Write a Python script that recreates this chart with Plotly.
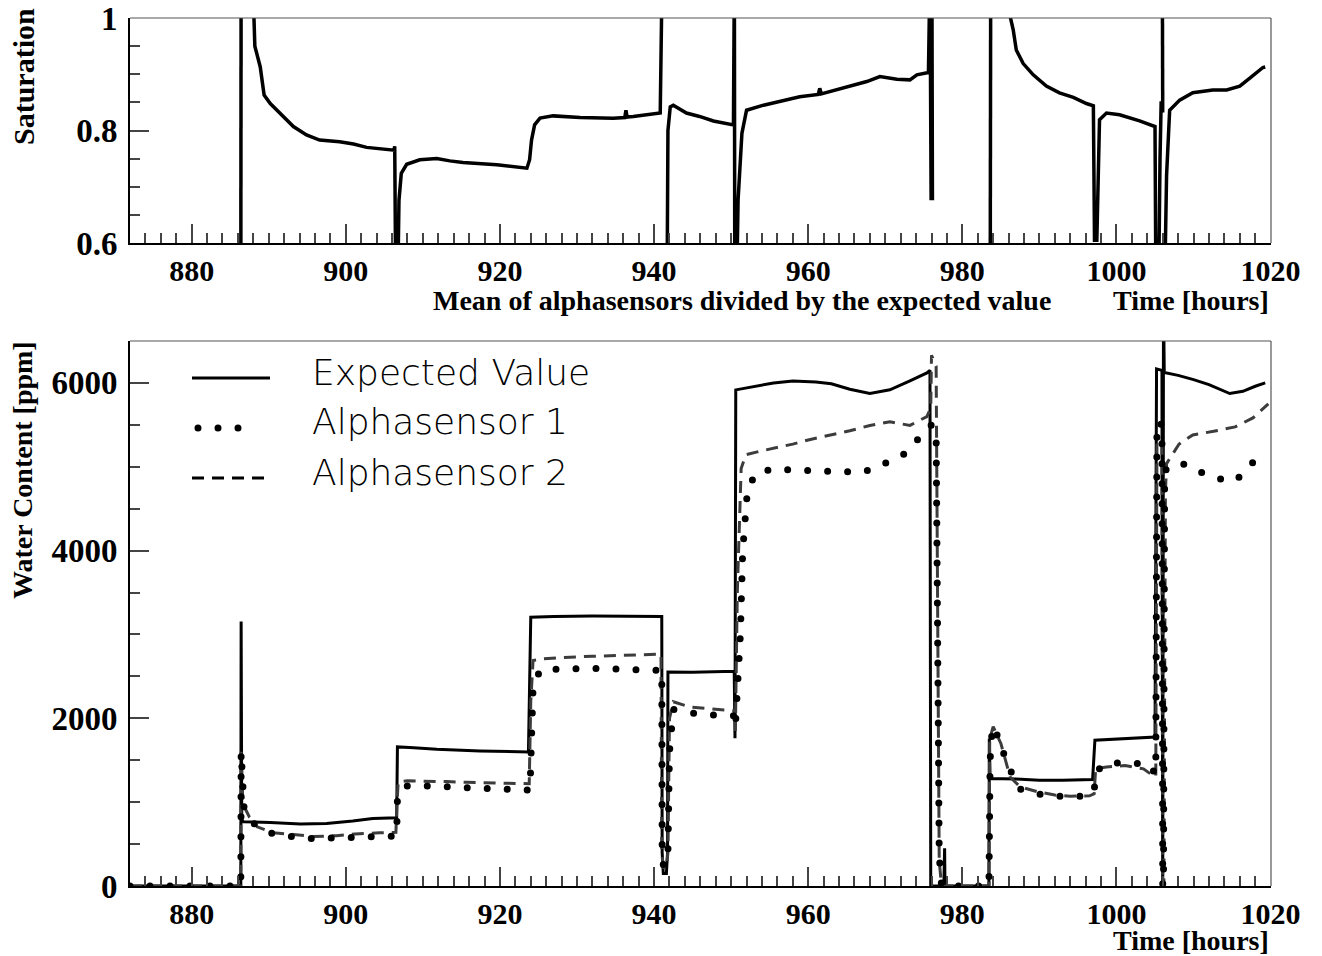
import plotly.graph_objects as go

# ---------------------------------------------------------------------------
# Saturation: mean of the two alphasensors divided by the expected value
# (None breaks the line where the ratio is undefined)
# ---------------------------------------------------------------------------
SAT_HOURS = [
    886.38, 886.42, 887.0, 887.9, 888.1, 888.2, 888.9, 889.4, 890.2, 891.5,
    893.2, 894.9, 896.6, 899.2, 901.0, 902.7, 904.4, 905.5, 906.25, 906.35,
    906.45, 906.8, 906.9, 907.2, 907.9, 909.6, 911.8, 913.5, 915.2, 919.6,
    923.5, 923.85, 924.1, 924.5, 925.2, 926.9, 930.4, 934.7, 936.2, 936.35,
    936.5, 937.3, 939.0, 940.8, 941.05, 941.4, 941.7, 941.8, 942.1, 942.5,
    944.2, 945.9, 947.7, 950.3, 950.42, 950.47, 950.75, 950.9, 951.4, 952.0,
    954.2, 956.3, 958.9, 961.3, 961.5, 961.7, 965.0, 967.6, 969.3, 971.5,
    973.2, 974.1, 975.6, 975.8, 975.95, 976.05, 976.12, 976.5, 983.62, 983.68,
    984.5, 986.0, 986.25, 986.6, 987.0, 987.9, 989.2, 990.9, 992.6, 994.4,
    996.1, 997.0, 997.15, 997.45, 997.6, 997.8, 998.7, 1000.4, 1003.0, 1005.0,
    1005.1, 1005.5, 1005.65, 1005.8, 1005.9, 1005.95, 1006.0, 1006.05, 1006.3, 1006.5,
    1006.9, 1008.2, 1009.9, 1012.5, 1014.3, 1016.0, 1017.3, 1019.0, 1019.3,
]
SAT_VALUES = [
    0.55, 1.08, None, 1.08, 1.0, 0.95, 0.913, 0.863, 0.848, 0.831,
    0.807, 0.792, 0.783, 0.780, 0.776, 0.770, 0.768, 0.766, 0.765, 0.772,
    0.58, 0.58, 0.676, 0.724, 0.740, 0.748, 0.750, 0.746, 0.743, 0.739,
    0.733, 0.748, 0.783, 0.810, 0.822, 0.826, 0.823, 0.822, 0.823, 0.836,
    0.824, 0.825, 0.828, 0.831, 1.08, None, 0.55, 0.80, 0.842, 0.845,
    0.831, 0.825, 0.817, 0.810, 1.08, 0.55, 0.55, 0.676, 0.795, 0.836,
    0.845, 0.851, 0.860, 0.864, 0.875, 0.865, 0.877, 0.887, 0.896, 0.891,
    0.890, 0.899, 0.903, 1.08, 0.676, 1.08, 0.676, None, 0.55, 1.08,
    None, 1.08, 1.0, 0.979, 0.943, 0.919, 0.899, 0.879, 0.867, 0.859,
    0.848, 0.844, 0.605, 0.605, 0.74, 0.819, 0.831, 0.828, 0.817, 0.807,
    0.56, 0.56, 0.75, 0.852, None, 1.08, 0.832, None, 0.56, 0.72,
    0.836, 0.854, 0.867, 0.872, 0.872, 0.879, 0.893, 0.912, 0.913,
]

# ---------------------------------------------------------------------------
# Water content [ppm]
# ---------------------------------------------------------------------------
EXPECTED_HOURS = [
    872.0, 886.38, 886.42, 886.5, 886.7, 890.2, 894.1, 897.5, 900.9, 903.5,
    906.6, 906.7, 908.3, 911.8, 917.4, 923.7, 924.0, 927.0, 932.0, 937.0,
    941.0, 941.05, 941.2, 941.6, 941.75, 941.8, 945.0, 950.4, 950.5, 950.6,
    953.0, 955.5, 958.0, 961.0, 963.0, 965.4, 968.0, 970.6, 973.2, 975.4,
    975.8, 975.9, 977.6, 977.7, 977.75, 983.45, 983.5, 983.6, 987.0, 990.0,
    993.0, 996.9, 997.2, 1000.0, 1005.0, 1005.2, 1005.9, 1006.0, 1006.1, 1006.2,
    1008.0, 1010.0, 1012.0, 1014.7, 1016.4, 1018.0, 1019.3,
]
EXPECTED_PPM = [
    0, 0, 3155, 790, 766, 758, 738, 746, 774, 806,
    813, 1659, 1651, 1631, 1611, 1599, 3206, 3215, 3220, 3218,
    3214, 400, 150, 150, 400, 2552, 2548, 2560, 1762, 5917,
    5960, 6000, 6024, 6010, 5990, 5925, 5875, 5918, 6024, 6119,
    6150, 0, 0, 450, 0, 0, 1758, 1282, 1275, 1260,
    1260, 1270, 1738, 1755, 1777, 6167, 6150, -200, 7000, 6124,
    6090, 6040, 5980, 5873, 5900, 5960, 6000,
]

SENSOR1_HOURS = [
    872.0, 886.38, 886.42, 886.6, 886.8, 888.2, 890.6, 893.2, 895.8, 898.8,
    901.2, 902.3, 904.4, 906.6, 906.7, 907.7, 910.3, 913.1, 915.7, 918.7,
    921.5, 923.9, 924.1, 924.3, 925.2, 928.0, 932.0, 936.0, 939.1, 941.0,
    941.05, 941.2, 941.6, 941.8, 942.0, 942.5, 944.4, 946.6, 948.2, 950.4,
    950.55, 951.2, 951.5, 952.1, 953.1, 955.5, 958.0, 960.0, 962.5, 965.4,
    966.4, 968.4, 970.3, 972.3, 973.9, 975.4, 976.0, 976.6, 977.0, 977.3,
    983.45, 983.6, 983.9, 985.0, 985.6, 987.5, 989.8, 992.0, 993.0, 995.6,
    997.1, 997.3, 998.7, 1001.1, 1003.2, 1004.3, 1005.0, 1005.1, 1005.25, 1005.9,
    1006.0, 1006.1, 1006.25, 1007.8, 1009.5, 1011.0, 1012.9, 1014.7, 1015.6, 1017.1,
    1018.6, 1019.0,
]
SENSOR1_PPM = [
    0, 0, 1600, 1200, 925, 734, 619, 587, 563, 575,
    583, 595, 595, 595, 1044, 1194, 1194, 1179, 1163, 1151,
    1151, 1143, 2056, 2373, 2571, 2590, 2595, 2590, 2571, 2571,
    400, 250, 250, 400, 1600, 2105, 2071, 2039, 2039, 2031,
    1900, 3000, 4000, 4700, 4917, 4976, 4960, 4960, 4950, 4940,
    4930, 4969, 5055, 5140, 5293, 5429, 5500, 5400, 360, 0,
    0, 1500, 1905, 1718, 1492, 1155, 1095, 1083, 1063, 1071,
    1123, 1361, 1468, 1468, 1460, 1452, 1341, 1345, 5536, 5500,
    0, 0, 4952, 5048, 5017, 4933, 4871, 4821, 4850, 4976,
    5167, 5170,
]

SENSOR2_HOURS = [
    872.0, 886.38, 886.42, 886.6, 886.8, 887.5, 888.5, 890.6, 893.2, 895.8,
    898.8, 901.2, 904.4, 906.5, 906.65, 906.8, 908.0, 910.3, 913.1, 915.7,
    918.7, 921.5, 923.8, 924.0, 924.3, 925.6, 928.0, 932.0, 936.0, 939.1,
    940.9, 941.0, 941.2, 941.6, 941.8, 942.0, 942.5, 944.6, 947.2, 949.8,
    950.4, 950.55, 950.8, 951.3, 951.9, 953.7, 955.8, 958.0, 960.0, 963.0,
    965.4, 968.0, 970.6, 973.2, 975.4, 975.9, 976.0, 976.6, 977.0, 977.3,
    983.45, 983.55, 984.0, 985.0, 986.2, 987.5, 989.8, 992.0, 994.0, 996.5,
    997.1, 997.3, 998.7, 1001.1, 1003.5, 1004.6, 1005.1, 1005.25, 1005.9, 1006.0,
    1006.15, 1006.35, 1006.5, 1008.1, 1009.9, 1012.6, 1015.4, 1017.7, 1019.7,
]
SENSOR2_PPM = [
    0, 0, 1600, 1100, 950, 820, 706, 635, 615, 590,
    600, 620, 635, 640, 1000, 1240, 1254, 1254, 1245, 1236,
    1230, 1222, 1220, 2200, 2690, 2710, 2725, 2740, 2755, 2760,
    2765, 400, 220, 220, 400, 2000, 2198, 2135, 2114, 2095,
    2090, 1850, 3500, 4980, 5143, 5185, 5226, 5270, 5320, 5380,
    5429, 5493, 5536, 5493, 5599, 5700, 6330, 6200, 300, 0,
    0, 1750, 1900, 1700, 1300, 1182, 1123, 1085, 1071, 1075,
    1100, 1400, 1420, 1436, 1397, 1325, 1300, 5300, 5300, 0,
    0, 4700, 5038, 5268, 5380, 5423, 5476, 5583, 5750,
]

X_RANGE = [872, 1020.05]
SAT_RANGE = [0.6, 1.0]
PPM_RANGE = [0, 6500]

LEGEND_LABELS = ["Expected Value", "Alphasensor 1", "Alphasensor 2"]

# ---------------------------------------------------------------------------
W, H = 1322, 956


def px_x(x):
    return x / W


def px_y(y):
    return 1 - y / H


SERIF = "Liberation Serif, Times New Roman, serif"
THIN = "DejaVu Sans ExtraLight, DejaVu Sans, sans-serif"
DOT_DASH = "0px,20px"
DASH = "12px,8px"
GREY_DASH = "#3c3c3c"

fig = go.Figure()

# upper panel
fig.add_trace(go.Scatter(x=SAT_HOURS, y=SAT_VALUES, mode="lines",
                         line=dict(color="black", width=3.5),
                         connectgaps=False, xaxis="x", yaxis="y"))

# lower panel
fig.add_trace(go.Scatter(x=EXPECTED_HOURS, y=EXPECTED_PPM, mode="lines",
                         line=dict(color="black", width=3),
                         xaxis="x2", yaxis="y2"))
fig.add_trace(go.Scatter(x=SENSOR2_HOURS, y=SENSOR2_PPM, mode="lines",
                         line=dict(color=GREY_DASH, width=3, dash=DASH),
                         xaxis="x2", yaxis="y2"))
fig.add_trace(go.Scatter(x=SENSOR1_HOURS, y=SENSOR1_PPM, mode="lines",
                         line=dict(color="black", width=7, dash=DOT_DASH),
                         xaxis="x2", yaxis="y2"))

# legend samples, drawn on a pixel-unit overlay axis
leg_x0, leg_x1 = 192, 270
leg_rows = [378, 428, 478]
fig.add_trace(go.Scatter(x=[leg_x0, leg_x1], y=[leg_rows[0]] * 2, mode="lines",
                         line=dict(color="black", width=3), xaxis="x3", yaxis="y3"))
fig.add_trace(go.Scatter(x=[leg_x0 + 6, leg_x0 + 66], y=[leg_rows[1]] * 2, mode="lines",
                         line=dict(color="black", width=7, dash=DOT_DASH),
                         xaxis="x3", yaxis="y3"))
fig.add_trace(go.Scatter(x=[leg_x0, leg_x0 + 72], y=[leg_rows[2]] * 2, mode="lines",
                         line=dict(color="black", width=3, dash=DASH),
                         xaxis="x3", yaxis="y3"))

left, right = px_x(130), px_x(1271)
top_dom = [px_y(243), px_y(18)]
bot_dom = [px_y(886), px_y(341)]

xtickfont = dict(family=SERIF, size=30, color="black", weight="bold")
ytickfont = dict(family=SERIF, size=33, color="black", weight="bold")


def xaxis_common(anchor):
    return dict(domain=[left, right], range=X_RANGE, anchor=anchor,
                showline=True, linecolor="black", linewidth=2, mirror=False,
                showgrid=False, zeroline=False, automargin=False,
                ticks="inside", ticklen=19, tickwidth=1.5, tickcolor="#444",
                tick0=0, dtick=20, tickfont=xtickfont, ticklabelstandoff=0,
                minor=dict(ticks="inside", ticklen=10, tickwidth=1.5,
                           tickcolor="#444", dtick=2, tick0=0, showgrid=False))


def yaxis_common(anchor, domain, rng, dtick, minor_dtick):
    return dict(domain=domain, range=rng, anchor=anchor,
                showline=True, linecolor="black", linewidth=2, mirror=False,
                showgrid=False, zeroline=False, automargin=False,
                ticks="inside", ticklen=19, tickwidth=1.5, tickcolor="#444",
                tick0=0, dtick=dtick, tickfont=ytickfont, ticklabelstandoff=4,
                minor=dict(ticks="inside", ticklen=10, tickwidth=1.5,
                           tickcolor="#444", dtick=minor_dtick, tick0=0,
                           showgrid=False))


shapes = []
for xr, yr in (("x", "y"), ("x2", "y2")):
    shapes.append(dict(type="line", xref=f"{xr} domain", yref=f"{yr} domain",
                       x0=0, x1=1, y0=1, y1=1, line=dict(color="#555", width=1.2)))
    shapes.append(dict(type="line", xref=f"{xr} domain", yref=f"{yr} domain",
                       x0=1, x1=1, y0=0, y1=1, line=dict(color="#555", width=1.2)))

title_font = dict(family=SERIF, size=28, color="black", weight="bold")
annotations = [
    dict(text="Saturation", x=px_x(23), y=px_y(77), xref="paper", yref="paper",
         textangle=-90, showarrow=False, font=dict(title_font, size=30),
         xanchor="center", yanchor="middle"),
    dict(text="Water Content [ppm]", x=px_x(22), y=px_y(470), xref="paper", yref="paper",
         textangle=-90, showarrow=False, font=title_font,
         xanchor="center", yanchor="middle"),
    dict(text="Mean of alphasensors divided by the expected value",
         x=px_x(742), y=px_y(300), xref="paper", yref="paper", showarrow=False,
         font=title_font, xanchor="center", yanchor="middle"),
    dict(text="Time [hours]", x=px_x(1271), y=px_y(300), xref="paper", yref="paper",
         showarrow=False, font=title_font, xanchor="right", yanchor="middle"),
    dict(text="Time [hours]", x=px_x(1271), y=px_y(940), xref="paper", yref="paper",
         showarrow=False, font=title_font, xanchor="right", yanchor="middle"),
]
legend_font = dict(family=THIN, size=36, color="black", weight=200)
for label, row in zip(LEGEND_LABELS, [372, 422, 472]):
    annotations.append(dict(text=label, x=px_x(310), y=px_y(row), xref="paper",
                            yref="paper", showarrow=False, font=legend_font,
                            xanchor="left", yanchor="middle"))

fig.update_layout(
    width=W, height=H,
    margin=dict(l=0, r=0, t=0, b=0, pad=0, autoexpand=False),
    paper_bgcolor="white", plot_bgcolor="rgba(0,0,0,0)",
    showlegend=False,
    xaxis=xaxis_common("y"),
    yaxis=yaxis_common("x", top_dom, SAT_RANGE, 0.2, 0.05),
    xaxis2=xaxis_common("y2"),
    yaxis2=yaxis_common("x2", bot_dom, PPM_RANGE, 2000, 500),
    xaxis3=dict(domain=[0, 1], range=[0, W], anchor="y3", visible=False,
                fixedrange=True),
    yaxis3=dict(domain=[0, 1], range=[H, 0], anchor="x3", visible=False,
                fixedrange=True),
    shapes=shapes,
    annotations=annotations,
)

# dotted series are drawn with round caps so the zero-length dashes become dots
round_caps = """
document.querySelectorAll('path.js-line').forEach(function (p) {
  var d = (p.style.strokeDasharray || '').replace(/\\s/g, '');
  if (d.indexOf('0px,') === 0) { p.style.strokeLinecap = 'round'; }
});
"""

fig.write_html("out.html", post_script=round_caps)
